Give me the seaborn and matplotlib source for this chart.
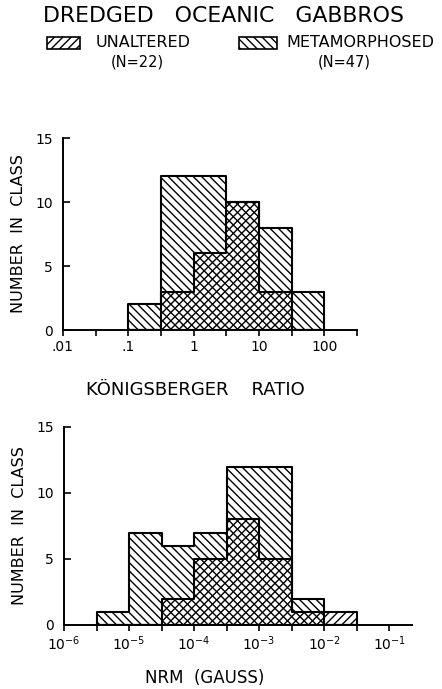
import numpy as np
import seaborn as sns
import matplotlib.pyplot as plt
from matplotlib.patches import Rectangle

sns.set_style("ticks")
plt.rcParams['font.family'] = ['DejaVu Sans']
plt.rcParams['hatch.linewidth'] = 1.0
plt.rcParams['mathtext.fontset'] = 'dejavusans'
for key in ['text.color', 'axes.labelcolor', 'axes.edgecolor', 'xtick.color', 'ytick.color']:
    plt.rcParams[key] = 'black'

# Königsberger ratio, half-decade bins (log10 edges)
q_edges = [-1.0, -0.5, 0.0, 0.5, 1.0, 1.5, 2.0]
q_metamorphosed = [2, 12, 12, 10, 8, 3]
q_unaltered = [0, 3, 6, 10, 3, 0]
q_ticks = [0.01, 0.1, 1, 10, 100]
q_ticklabels = ['.01', '.1', '1', '10', '100']

# NRM intensity (gauss), half-decade bins (log10 edges)
nrm_edges = [-5.5, -5.0, -4.5, -4.0, -3.5, -3.0, -2.5, -2.0, -1.5]
nrm_metamorphosed = [1, 7, 6, 7, 12, 12, 2, 0]
nrm_unaltered = [0, 0, 2, 5, 8, 5, 1, 1]
nrm_ticks = [1e-6, 1e-5, 1e-4, 1e-3, 1e-2, 1e-1]
nrm_ticklabels = [r'$10^{-6}$', r'$10^{-5}$', r'$10^{-4}$', r'$10^{-3}$', r'$10^{-2}$', r'$10^{-1}$']

y_ticks = [0, 5, 10, 15]

HATCH_META = '\\' * 4
HATCH_UNALT = '/' * 4


def draw_hist(ax, edges, counts, hatch):
    """Outline histogram with hatch, counts given per log bin"""
    e = np.array(edges)
    centers = 10 ** ((e[:-1] + e[1:]) / 2)
    sns.histplot(x=centers, weights=counts, bins=list(edges), log_scale=True,
                 element='step', fill=True, color='black', facecolor='none',
                 edgecolor='black', hatch=hatch, linewidth=1.5, ax=ax)


def style_axis(ax, xlim, ticks, labels, half_ticks, label_x):
    ax.set_xlim(*xlim)
    ax.set_ylim(0, 15)
    ax.set_xticks(ticks)
    ax.set_xticklabels(labels)
    ax.set_xticks(half_ticks, minor=True)
    ax.set_xticklabels([], minor=True)
    ax.set_yticks(y_ticks)
    ax.set_yticklabels([str(t) for t in y_ticks])
    sns.despine(ax=ax)
    for sp in ['left', 'bottom']:
        ax.spines[sp].set_linewidth(1.4)
    ax.tick_params(axis='x', which='both', direction='out', length=4, width=1.2,
                   labelsize=10, pad=3)
    ax.tick_params(axis='y', direction='in', length=5, width=1.2, labelsize=10, pad=7.5)
    ax.set_ylabel('NUMBER  IN  CLASS', fontsize=11.5)
    ax.yaxis.set_label_coords(label_x, 0.5)
    ax.set_xlabel('')


fig = plt.figure(figsize=(4.42, 6.89), dpi=100)

ax1 = fig.add_axes([0.1425, 0.521, 0.665, 0.2787])
draw_hist(ax1, q_edges, q_metamorphosed, HATCH_META)
draw_hist(ax1, q_edges, q_unaltered, HATCH_UNALT)
style_axis(ax1, (10 ** -2, 10 ** 2.5), q_ticks, q_ticklabels,
           10 ** np.arange(-1.5, 2.6, 1.0), -0.125)
fig.text(0.441, 0.434, 'KÖNIGSBERGER    RATIO', fontsize=13, ha='center', va='center')

ax2 = fig.add_axes([0.145, 0.0929, 0.787, 0.2874])
draw_hist(ax2, nrm_edges, nrm_metamorphosed, HATCH_META)
draw_hist(ax2, nrm_edges, nrm_unaltered, HATCH_UNALT)
style_axis(ax2, (10 ** -6, 10 ** -0.65), nrm_ticks, nrm_ticklabels,
           10 ** np.arange(-5.5, -0.9, 1.0), -0.108)
fig.text(0.462, 0.016, 'NRM  (GAUSS)', fontsize=12, ha='center', va='center')

# title and legend
fig.text(0.505, 0.9775, 'DREDGED   OCEANIC   GABBROS', fontsize=15.8, ha='center', va='center')
fig.add_artist(Rectangle((0.106, 0.929), 0.075, 0.0174, transform=fig.transFigure,
                         facecolor='none', edgecolor='black', hatch=HATCH_UNALT, linewidth=1.2))
fig.text(0.217, 0.9376, 'UNALTERED', fontsize=11.5, ha='left', va='center')
fig.text(0.31, 0.910, '(N=22)', fontsize=10.5, ha='center', va='center')
fig.add_artist(Rectangle((0.54, 0.929), 0.086, 0.0174, transform=fig.transFigure,
                         facecolor='none', edgecolor='black', hatch=HATCH_META, linewidth=1.2))
fig.text(0.649, 0.9376, 'METAMORPHOSED', fontsize=11.5, ha='left', va='center')
fig.text(0.778, 0.910, '(N=47)', fontsize=10.5, ha='center', va='center')

fig.savefig('out.png', dpi=100)
